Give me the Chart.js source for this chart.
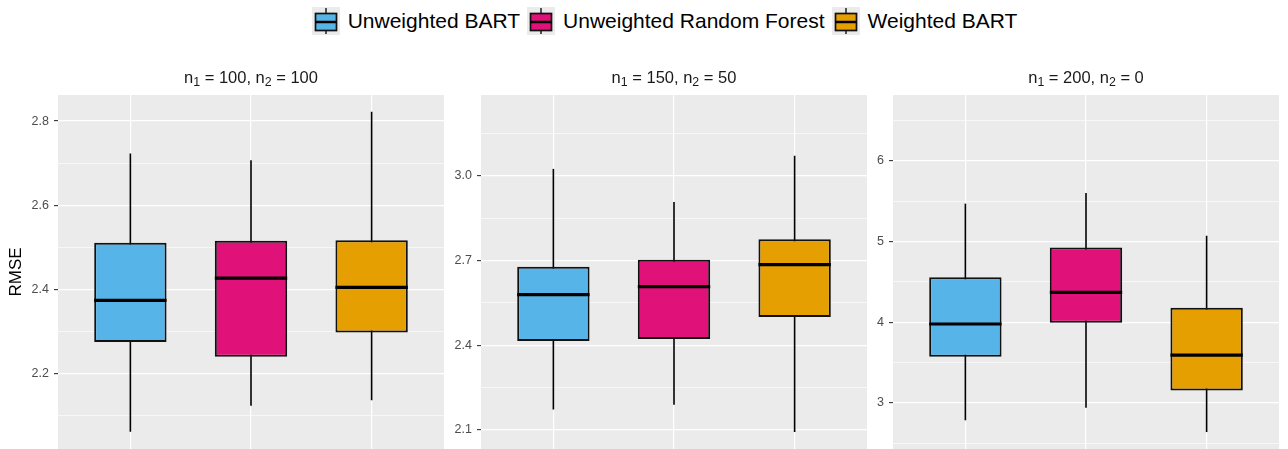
<!DOCTYPE html>
<html>
<head>
<meta charset="utf-8">
<script src="https://cdn.jsdelivr.net/npm/chart.js@4.4.0/dist/chart.umd.min.js"></script>
<style>
html, body { margin:0; padding:0; background:#fff; width:1288px; height:449px; overflow:hidden; font-family:"Liberation Sans", Arial, sans-serif; }
.wrap { position:relative; width:1288px; height:449px; }
canvas.painel { position:absolute; top:80px; }
.strip { position:absolute; top:67px; line-height:20px; font-size:16.5px; color:#1a1a1a; white-space:nowrap; transform:translateX(-50%); }
.strip sub { font-size:0.75em; vertical-align:-0.25em; line-height:0; }
#legenda { position:absolute; left:58px; width:1220px; top:6px; height:29px; display:flex; justify-content:center; align-items:center; }
#legenda canvas { margin-right:8px; }
#legenda span { font-size:21px; color:#000; margin-right:7px; white-space:nowrap; }
</style>
</head>
<body>
<div class="wrap" id="wrap">
  <div id="legenda"></div>
</div>
<script>
// dados
var series = ['Unweighted BART', 'Unweighted Random Forest', 'Weighted BART'];
var cores = ['#56B4E9', '#E0127A', '#E69F00'];
var n1 = [100, 150, 200];
var n2 = [100, 50, 0];

// por painel: [BART, Random Forest, Weighted BART]
var bigodeInf = [[2.062, 2.124, 2.137], [2.172, 2.189, 2.092], [2.784, 2.940, 2.638]];
var quartil1  = [[2.275, 2.240, 2.298], [2.415, 2.422, 2.500], [3.571, 3.994, 3.152]];
var mediana   = [[2.374, 2.427, 2.405], [2.579, 2.608, 2.686], [3.978, 4.371, 3.592]];
var quartil3  = [[2.511, 2.516, 2.517], [2.678, 2.703, 2.776], [4.557, 4.927, 4.180]];
var bigodeSup = [[2.723, 2.707, 2.822], [3.025, 2.908, 3.072], [5.470, 5.602, 5.072]];

var limitesY = [[2.021, 2.862], [2.032, 3.287], [2.428, 6.817]];
var ticksMaiores = [[2.2, 2.4, 2.6, 2.8], [2.1, 2.4, 2.7, 3.0], [3, 4, 5, 6]];
var ticksMenores = [[2.1, 2.3, 2.5, 2.7], [2.25, 2.55, 2.85, 3.15], [2.5, 3.5, 4.5, 5.5, 6.5]];
var tickLabels = [['2.2', '2.4', '2.6', '2.8'], ['2.1', '2.4', '2.7', '3.0'], ['3', '4', '5', '6']];

// layout dos paineis (pixels)
var caixas = [
    {left: 0, width: 444, eixo: 58},
    {left: 446, width: 421, eixo: 35},
    {left: 868, width: 411, eixo: 25}
];

Chart.defaults.font.family = "'Liberation Sans', Arial, sans-serif";

var fundoCinza = {
    id: 'fundoCinza',
    beforeDraw: function(chart){
        var a = chart.chartArea, c = chart.ctx;
        c.save();
        c.fillStyle = '#EBEBEB';
        c.fillRect(a.left, a.top, a.right - a.left, a.bottom - a.top);
        c.restore();
    }
};

function ehMaior(p, ctx){
    return ctx.tick && ticksMaiores[p].indexOf(ctx.tick.value) >= 0;
}

function criaPainel(p){
    var caixa = caixas[p];
    var wrap = document.getElementById('wrap');
    var cv = document.createElement('canvas');
    cv.className = 'painel';
    cv.width = caixa.width;
    cv.height = 390;
    cv.style.left = caixa.left + 'px';
    wrap.appendChild(cv);

    var posX = series.map(function(s, i){ return i + 1; });

    var bigodes = {
        type: 'bar',
        data: posX.map(function(x, i){ return {x: x, y: [bigodeInf[p][i], bigodeSup[p][i]]}; }),
        backgroundColor: '#000',
        borderWidth: 0,
        grouped: false,
        categoryPercentage: 1,
        barPercentage: 0.02,
        maxBarThickness: 1.6,
        order: 3
    };
    var caixasBox = {
        type: 'bar',
        data: posX.map(function(x, i){ return {x: x, y: [quartil1[p][i], quartil3[p][i]]}; }),
        backgroundColor: cores,
        borderColor: '#111',
        borderWidth: 2,
        borderSkipped: false,
        grouped: false,
        categoryPercentage: 1,
        barPercentage: 0.6,
        order: 2
    };
    var pontosMed = [];
    posX.forEach(function(x, i){
        pontosMed.push({x: x - 0.3, y: mediana[p][i]});
        pontosMed.push({x: x + 0.3, y: mediana[p][i]});
        pontosMed.push({x: x + 0.5, y: null});
    });
    var medianas = {
        type: 'line',
        data: pontosMed,
        borderColor: '#000',
        borderWidth: 3.2,
        pointRadius: 0,
        spanGaps: false,
        borderCapStyle: 'butt',
        order: 1
    };

    var todos = ticksMaiores[p].concat(ticksMenores[p]).sort(function(a, b){ return a - b; });

    new Chart(cv, {
        type: 'bar',
        data: { datasets: [bigodes, caixasBox, medianas] },
        options: {
            responsive: false,
            animation: false,
            events: [],
            layout: { padding: { top: 15, bottom: 21, left: 0, right: 0 } },
            plugins: { legend: { display: false }, tooltip: { enabled: false } },
            scales: {
                x: {
                    type: 'linear', min: 0.4, max: 3.6, offset: false,
                    afterBuildTicks: function(s){ s.ticks = posX.map(function(v){ return {value: v}; }); },
                    ticks: { display: false },
                    grid: { color: '#FFFFFF', lineWidth: 1.2, drawTicks: false, offset: false },
                    border: { display: false }
                },
                y: {
                    type: 'linear', min: limitesY[p][0], max: limitesY[p][1],
                    afterBuildTicks: function(s){ s.ticks = todos.map(function(v){ return {value: v}; }); },
                    afterFit: function(s){ s.width = caixa.eixo; },
                    ticks: {
                        autoSkip: false, color: '#4D4D4D', font: { size: 12.5 }, padding: 5,
                        callback: function(v){
                            var k = ticksMaiores[p].indexOf(v);
                            return k >= 0 ? tickLabels[p][k] : '';
                        }
                    },
                    grid: {
                        color: '#FFFFFF',
                        lineWidth: function(ctx){ return ehMaior(p, ctx) ? 1.2 : 0.6; },
                        tickColor: function(ctx){ return ehMaior(p, ctx) ? '#333333' : 'rgba(0,0,0,0)'; },
                        tickWidth: 1.1,
                        tickLength: 4,
                        drawTicks: true
                    },
                    border: { display: false },
                    title: {
                        display: p === 0, text: 'RMSE', color: '#000',
                        font: { size: 17 }, padding: { top: 6, bottom: 0 }
                    }
                }
            }
        },
        plugins: [fundoCinza]
    });

    var t = document.createElement('div');
    t.className = 'strip';
    t.style.left = (caixa.left + caixa.eixo + (caixa.width - caixa.eixo) / 2) + 'px';
    t.innerHTML = 'n<sub>1</sub> = ' + n1[p] + ', n<sub>2</sub> = ' + n2[p];
    wrap.appendChild(t);
}

function desenhaChave(cv, cor){
    var c = cv.getContext('2d');
    c.fillStyle = '#EBEBEB';
    c.fillRect(0, 0, 28, 28);
    c.strokeStyle = '#000';
    c.lineWidth = 1.3;
    c.beginPath(); c.moveTo(14, 1); c.lineTo(14, 27); c.stroke();
    c.fillStyle = cor;
    c.fillRect(3.5, 6.5, 21, 17);
    c.strokeStyle = '#111';
    c.lineWidth = 1.7;
    c.strokeRect(3.5, 6.5, 21, 17);
    c.strokeStyle = '#000';
    c.lineWidth = 2.5;
    c.beginPath(); c.moveTo(3.5, 15); c.lineTo(24.5, 15); c.stroke();
}

function criaLegenda(){
    var leg = document.getElementById('legenda');
    for(var i = 0; i < series.length; i++){
        var cv = document.createElement('canvas');
        cv.width = 28; cv.height = 28;
        desenhaChave(cv, cores[i]);
        leg.appendChild(cv);
        var sp = document.createElement('span');
        sp.textContent = series[i];
        leg.appendChild(sp);
    }
}

criaLegenda();
for(var p = 0; p < 3; p++){
    criaPainel(p);
}
</script>
</body>
</html>
